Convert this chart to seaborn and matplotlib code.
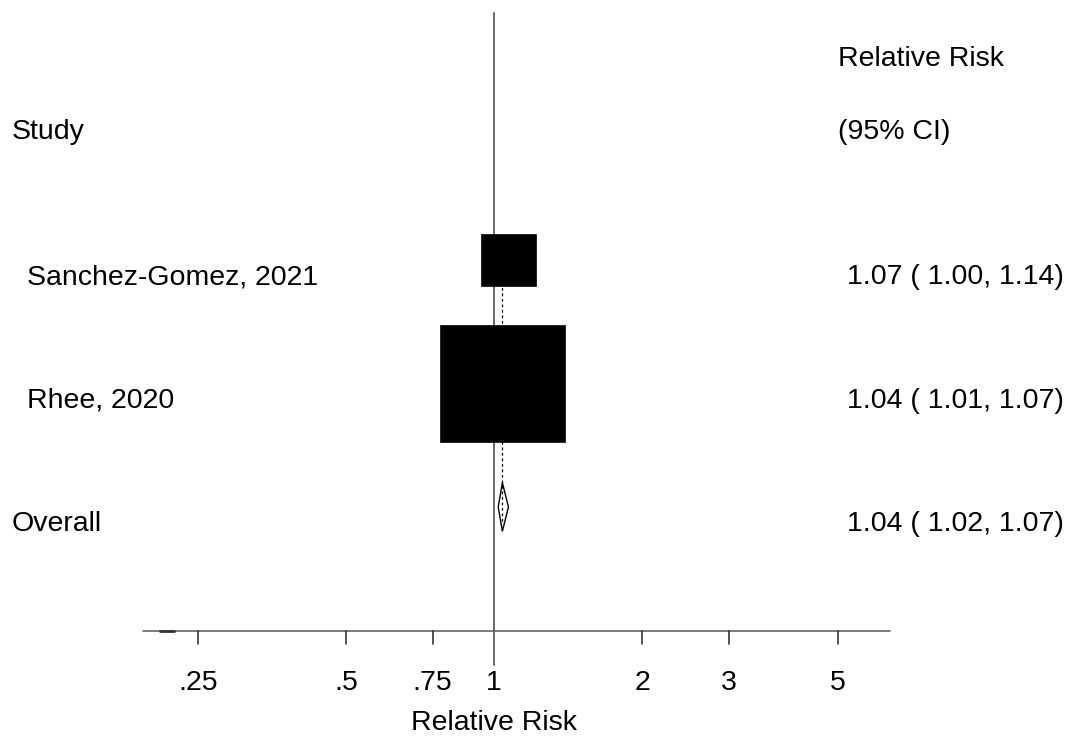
import numpy as np
import matplotlib
matplotlib.use("Agg")
import matplotlib.pyplot as plt
from matplotlib.patches import Rectangle, Polygon
import seaborn as sns

# ---- data ----
studies = ["Sanchez-Gomez, 2021", "Rhee, 2020"]
rr = [1.07, 1.04]
ci_lo = [1.00, 1.01]
ci_hi = [1.14, 1.07]
weights = [16.2, 83.8]
overall_label = "Overall"
overall_rr = 1.04
overall_lo = 1.02
overall_hi = 1.07
tick_values = [0.25, 0.5, 0.75, 1, 2, 3, 5]
tick_labels = [".25", ".5", ".75", "1", "2", "3", "5"]
header_left = "Study"
header_right = ["Relative Risk", "(95% CI)"]
xlabel = "Relative Risk"

sns.set_theme(style="white")
plt.rcParams["font.family"] = ["Liberation Sans", "DejaVu Sans"]

W, H = 1073, 743
fig = plt.figure(figsize=(W / 100, H / 100), dpi=100)
ax = fig.add_axes([0, 0, 1, 1])
ax.set_xscale("log", base=2)

# pixel geometry
x1_px = 494.0        # pixel of x = 1
px_per_dbl = 148.0   # pixels per doubling
row0_px = 260.0      # pixel of first study row
row_px = 123.5       # pixels per row
ax.set_xlim(2 ** (-x1_px / px_per_dbl), 2 ** ((W - x1_px) / px_per_dbl))
ax.set_ylim((H - row0_px) / row_px, -row0_px / row_px)
ax.axis("off")

def py(p):
    return (p - row0_px) / row_px

fs = 20.5
txt_off = 24.0 / row_px  # baseline offset of labels below row centre
ytr = ax.get_yaxis_transform()

# null line
ax.plot([1, 1], [py(13), py(665)], color="#666666", lw=1.4, zorder=1)

# axis line and ticks
axis_y = py(630.5)
ax.plot([2 ** ((143 - x1_px) / px_per_dbl), 2 ** ((890 - x1_px) / px_per_dbl)],
        [axis_y, axis_y], color="#666666", lw=1.2, zorder=1)
ax.plot([2 ** ((160 - x1_px) / px_per_dbl), 2 ** ((174 - x1_px) / px_per_dbl)],
        [axis_y, axis_y], color="#333333", lw=2.0, zorder=1)
for tv, tl in zip(tick_values, tick_labels):
    if tv != 1:
        ax.plot([tv, tv], [axis_y, py(643.5)], color="#333333", lw=1.2, zorder=1)
    ax.text(tv, py(690), tl, ha="center", va="baseline", fontsize=fs, color="black")
ax.text(1, py(730), xlabel, ha="center", va="baseline", fontsize=fs, color="black")

# overall dashed line
ax.plot([overall_rr, overall_rr], [0, 2 + 0.13], color="black", lw=0.9,
        linestyle=(0, (2.2, 2.2)), zorder=2)

# study boxes and CIs
kw, kh = 13.66, 12.68
for i, (est, lo, hi, w) in enumerate(zip(rr, ci_lo, ci_hi, weights)):
    bw = kw * np.sqrt(w)
    bh = kh * np.sqrt(w)
    left = est * 2 ** (-bw / 2 / px_per_dbl)
    right = est * 2 ** (bw / 2 / px_per_dbl)
    ax.add_patch(Rectangle((left, i - bh / 2 / row_px), right - left, bh / row_px,
                           facecolor="black", edgecolor="black", lw=0.5, zorder=3))
    ax.plot([lo, hi], [i, i], color="black", lw=1, zorder=3)
    ax.text(27 / W, i + txt_off, studies[i], transform=ytr, ha="left", va="baseline",
            fontsize=fs, color="black")
    ax.text(1064 / W, i + txt_off, f"{est:.2f} ( {lo:.2f}, {hi:.2f})", transform=ytr,
            ha="right", va="baseline", fontsize=fs, color="black")

# overall diamond
orow = len(studies)
dh = 24.3 / row_px
ax.add_patch(Polygon([(overall_lo, orow), (overall_rr, orow - dh), (overall_hi, orow),
                      (overall_rr, orow + dh)], closed=True, facecolor="none",
                     edgecolor="black", lw=1.0, zorder=4))
ax.text(12 / W, orow + txt_off, overall_label, transform=ytr, ha="left", va="baseline",
        fontsize=fs, color="black")
ax.text(1064 / W, orow + txt_off,
        f"{overall_rr:.2f} ( {overall_lo:.2f}, {overall_hi:.2f})", transform=ytr,
        ha="right", va="baseline", fontsize=fs, color="black")

# headers
ax.text(12 / W, py(139), header_left, transform=ytr, ha="left", va="baseline",
        fontsize=fs, color="black")
ax.text(838 / W, py(66), header_right[0], transform=ytr, ha="left", va="baseline",
        fontsize=fs, color="black")
ax.text(838 / W, py(139), header_right[1], transform=ytr, ha="left", va="baseline",
        fontsize=fs, color="black")

fig.savefig("out.png", dpi=100, facecolor="white")
